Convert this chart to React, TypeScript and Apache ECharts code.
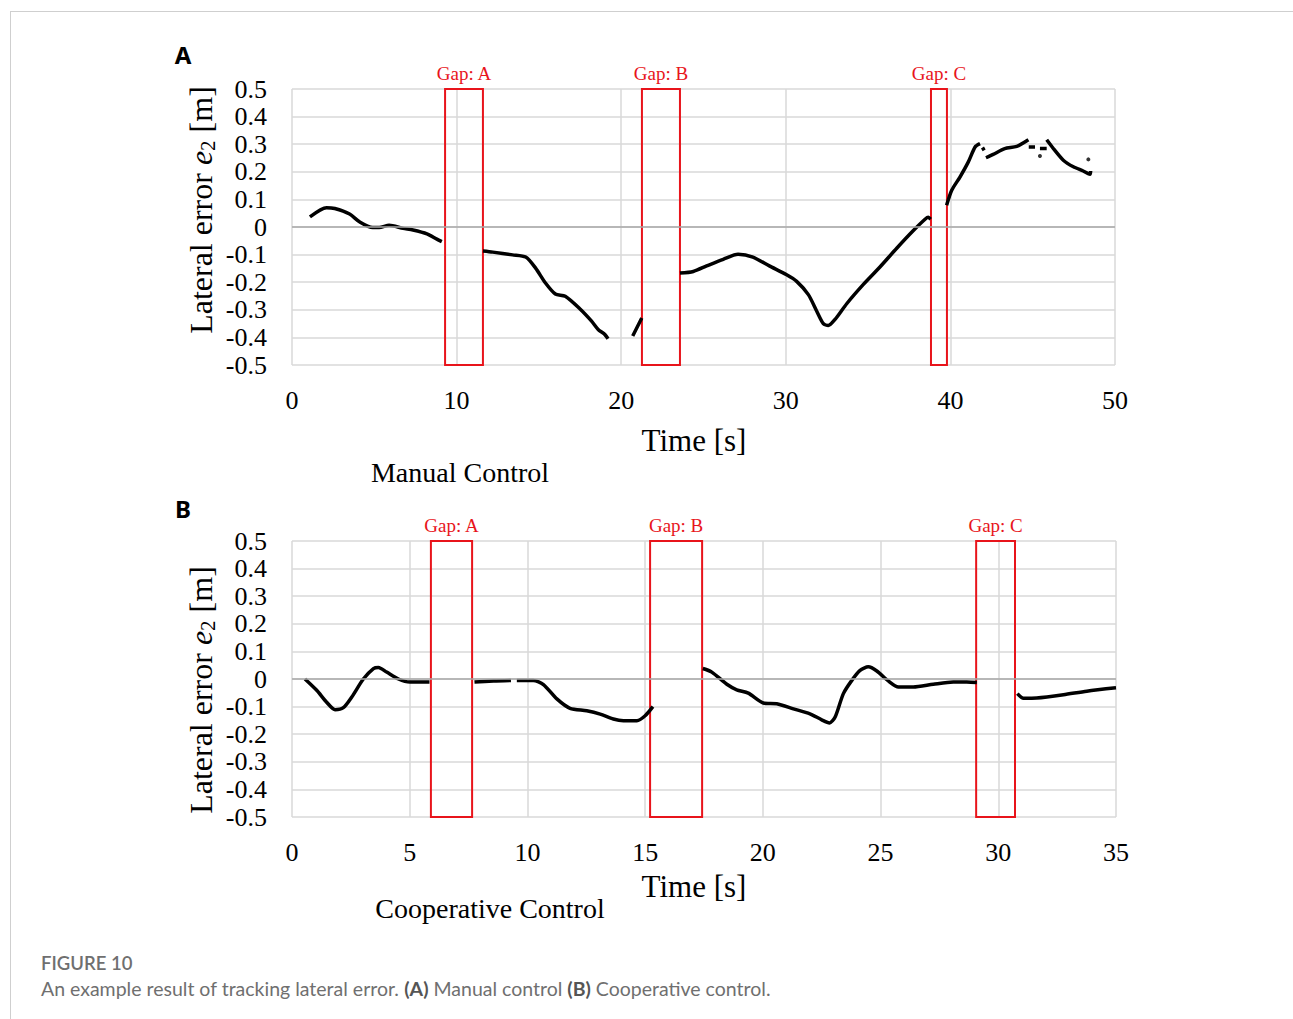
import React, { useEffect, useRef } from "react";
import * as echarts from "echarts";

// ---------- Panel A: Manual control ----------
const manualTime = [
  1.09, 2.1, 2.6, 3.5, 4.1, 4.9, 5.3, 5.9, 6.75, 7.35, 8.2, 8.8, 9.1, null,
  11.6, 12.2, 13.4, 14.2, 14.8, 15.4, 16.0, 16.6, 17.5, 18.2, 18.6, 19.0, 19.2, null,
  20.7, 21.25, null,
  23.57, 24.38, 25.19, 26.2, 27.1, 28.0, 29.0, 30.05, 30.66, 31.37, 31.88, 32.28, 32.58, 32.99, 33.7, 34.7, 35.72, 36.74, 37.75, 38.46, 38.66, 38.8, null,
  39.77, 40.08, 40.58, 41.09, 41.5, 41.8, null,
  41.95, 42.05, null,
  42.16, 42.6, 43.3, 44.03, 44.74, null,
  44.76, 45.14, null,
  45.44, 45.85, null,
  45.85, 46.26, 46.86, 47.47, 48.07, 48.48, 48.52,
];
const manualError = [
  0.037, 0.07, 0.067, 0.047, 0.019, -0.002, -0.002, 0.006, -0.005, -0.011, -0.025, -0.044, -0.053, null,
  -0.087, -0.091, -0.101, -0.109, -0.149, -0.203, -0.243, -0.251, -0.297, -0.341, -0.371, -0.389, -0.405, null,
  -0.395, -0.33, null,
  -0.167, -0.161, -0.141, -0.117, -0.099, -0.109, -0.141, -0.173, -0.197, -0.245, -0.305, -0.35, -0.357, -0.335, -0.278, -0.209, -0.145, -0.077, -0.013, 0.028, 0.035, 0.028, null,
  0.079, 0.133, 0.181, 0.236, 0.29, 0.302, null,
  0.288, 0.278, null,
  0.251, 0.263, 0.284, 0.292, 0.316, null,
  0.29, 0.29, null,
  0.284, 0.284, null,
  0.316, 0.284, 0.242, 0.218, 0.203, 0.191, 0.203,
];
const manualDotTime = [45.44, 48.38];
const manualDotError = [0.257, 0.245];
const manualGapStart = [9.3, 21.26, 38.82];
const manualGapEnd = [11.6, 23.57, 39.79];
const gapNames = ["Gap: A", "Gap: B", "Gap: C"];

// ---------- Panel B: Cooperative control ----------
const coopTime = [
  0.55, 1.05, 1.47, 1.83, 2.18, 2.54, 3.03, 3.46, 3.67, 4.02, 4.52, 5.01, 5.44, 5.84, null,
  7.75, 8.56, 9.3, null,
  9.55, 10.25, 10.68, 11.25, 11.81, 12.52, 13.09, 13.65, 14.08, 14.65, 15.0, 15.33, null,
  17.45, 17.83, 18.47, 18.89, 19.38, 20.02, 20.59, 21.3, 22.0, 22.5, 22.83, 23.07, 23.42, 23.78, 24.13, 24.48, 24.84, 25.33, 25.76, 26.39, 27.24, 28.09, 28.66, 29.09, null,
  30.81, 31.07, 31.63, 32.77, 33.76, 35.0,
];
const coopError = [
  0, -0.041, -0.084, -0.111, -0.104, -0.065, 0, 0.038, 0.042, 0.025, 0, -0.011, -0.011, -0.011, null,
  -0.011, -0.007, -0.005, null,
  -0.005, -0.005, -0.02, -0.072, -0.106, -0.115, -0.127, -0.145, -0.151, -0.151, -0.133, -0.1, null,
  0.038, 0.025, -0.019, -0.039, -0.051, -0.087, -0.09, -0.108, -0.126, -0.148, -0.159, -0.138, -0.053, -0.005, 0.031, 0.044, 0.029, -0.007, -0.029, -0.029, -0.019, -0.011, -0.011, -0.013, null,
  -0.053, -0.07, -0.069, -0.057, -0.044, -0.032,
];
const coopGapStart = [5.9, 15.21, 29.06];
const coopGapEnd = [7.65, 17.42, 30.71];

const SERIF = "Liberation Serif";

function zip(t: (number | null)[], e: (number | null)[]) {
  return t.map((x, i) => (x === null || e[i] === null ? [null, null] : [x, e[i]]));
}

function gapAreas(s: number[], e: number[]) {
  return s.map((x, i) => [
    { name: gapNames[i], xAxis: x, yAxis: 0.5 },
    { xAxis: e[i], yAxis: -0.5 },
  ]);
}

export default function App() {
  const ref = useRef<HTMLDivElement>(null);
  useEffect(() => {
    if (!ref.current) return;
    const chart = echarts.init(ref.current, null, { renderer: "svg" });

    const yAxisCommon = {
      type: "value",
      min: -0.5,
      max: 0.5,
      interval: 0.1,
      axisLine: { show: false },
      axisTick: { show: false },
      splitLine: { show: true, lineStyle: { color: "#d9d9d9", width: 1.5 } },
      axisLabel: {
        margin: 25,
        color: "#000",
        fontFamily: SERIF,
        fontSize: 26,
        formatter: (v: number) => {
          const r = Math.round(v * 10) / 10;
          return r === 0 ? "0" : r.toFixed(1);
        },
      },
    };
    const xAxisCommon = {
      type: "value",
      min: 0,
      axisLine: { show: false },
      axisTick: { show: false },
      splitLine: { show: true, lineStyle: { color: "#d9d9d9", width: 1.5 } },
      axisLabel: { margin: 22, color: "#000", fontFamily: SERIF, fontSize: 26 },
    };

    const gapStyle = {
      silent: true,
      itemStyle: { color: "rgba(0,0,0,0)", borderColor: "#e8141b", borderWidth: 2 },
      label: {
        show: true,
        position: "top",
        distance: 5,
        color: "#e8141b",
        fontFamily: SERIF,
        fontSize: 19,
      },
    };
    const zeroLine = {
      silent: true,
      symbol: "none",
      label: { show: false },
      lineStyle: { color: "#a8a8a8", width: 1.5, type: "solid" },
      data: [{ yAxis: 0 }],
    };
    const lineStyle = { color: "#000", width: 3.5 };

    const yTitle = (y: number) => ({
      type: "text",
      x: 201,
      y,
      rotation: Math.PI / 2,
      style: {
        text: "Lateral error {e|e}{s|2} [m]",
        font: `32px ${SERIF}`,
        fill: "#000",
        align: "center",
        verticalAlign: "middle",
        textAlign: "center",
        textVerticalAlign: "middle",
        rich: {
          e: { fontFamily: SERIF, fontSize: 32, fontStyle: "italic", fill: "#000", color: "#000" },
          s: { fontFamily: SERIF, fontSize: 21, padding: [14, 0, 0, 0], fill: "#000", color: "#000" },
        },
      },
    });
    const txt = (x: number, y: number, text: string, font: string, fill = "#000", align = "center") => ({
      type: "text",
      x,
      y,
      style: {
        text,
        font,
        fill,
        align,
        verticalAlign: "middle",
        textAlign: align,
        textVerticalAlign: "middle",
      },
    });

    chart.setOption({
      animation: false,
      backgroundColor: "#fff",
      grid: [
        { left: 292, top: 89, width: 823, height: 276 },
        { left: 292, top: 541, width: 824, height: 276 },
      ],
      xAxis: [
        { ...xAxisCommon, gridIndex: 0, max: 50, interval: 10 },
        { ...xAxisCommon, gridIndex: 1, max: 35, interval: 5 },
      ],
      yAxis: [
        { ...yAxisCommon, gridIndex: 0 },
        { ...yAxisCommon, gridIndex: 1 },
      ],
      series: [
        {
          type: "line",
          xAxisIndex: 0,
          yAxisIndex: 0,
          data: zip(manualTime, manualError),
          showSymbol: false,
          connectNulls: false,
          smooth: 0.25,
          lineStyle,
          markLine: zeroLine,
          markArea: { ...gapStyle, data: gapAreas(manualGapStart, manualGapEnd) },
        },
        {
          type: "scatter",
          xAxisIndex: 0,
          yAxisIndex: 0,
          data: manualDotTime.map((t, i) => [t, manualDotError[i]]),
          symbolSize: 4,
          itemStyle: { color: "#000" },
        },
        {
          type: "line",
          xAxisIndex: 1,
          yAxisIndex: 1,
          data: zip(coopTime, coopError),
          showSymbol: false,
          connectNulls: false,
          smooth: 0.25,
          lineStyle,
          markLine: zeroLine,
          markArea: { ...gapStyle, data: gapAreas(coopGapStart, coopGapEnd) },
        },
      ],
      graphic: [
        { type: "line", shape: { x1: 10, y1: 11.5, x2: 1293, y2: 11.5 }, style: { stroke: "#cfcfcf", lineWidth: 1 } },
        { type: "line", shape: { x1: 10.5, y1: 11, x2: 10.5, y2: 1019 }, style: { stroke: "#cfcfcf", lineWidth: 1 } },
        txt(183, 54, "A", "bold 24px 'Noto Sans', Arial, sans-serif"),
        txt(183, 508, "B", "bold 24px 'Noto Sans', Arial, sans-serif"),
        yTitle(210),
        yTitle(690),
        txt(694, 440, "Time [s]", `31px ${SERIF}`),
        txt(694, 886, "Time [s]", `31px ${SERIF}`),
        txt(460, 472, "Manual Control", `28px ${SERIF}`),
        txt(490, 908, "Cooperative Control", `28px ${SERIF}`),
        txt(41, 963, "FIGURE 10", "600 18.5px Lato, sans-serif", "#6f6f6f", "left"),
        {
          type: "text",
          x: 41,
          y: 988,
          style: {
            text:
              "{n|An example result of tracking lateral error. }{b|(A)}{n| Manual control }{b|(B)}{n| Cooperative control.}",
            font: "19.5px Lato, sans-serif",
            fill: "#6f6f6f",
            align: "left",
            verticalAlign: "middle",
            textAlign: "left",
            textVerticalAlign: "middle",
            rich: {
              n: { fontFamily: "Lato", fontSize: 19.5, fill: "#6f6f6f", color: "#6f6f6f" },
              b: { fontFamily: "Lato", fontSize: 19.5, fontWeight: "bold", fill: "#555", color: "#555" },
            },
          },
        },
      ],
    });
    return () => chart.dispose();
  }, []);
  return (
    <div
      ref={ref}
      style={{ position: "absolute", left: 0, top: 0, width: 1293, height: 1019, background: "#fff" }}
    />
  );
}
